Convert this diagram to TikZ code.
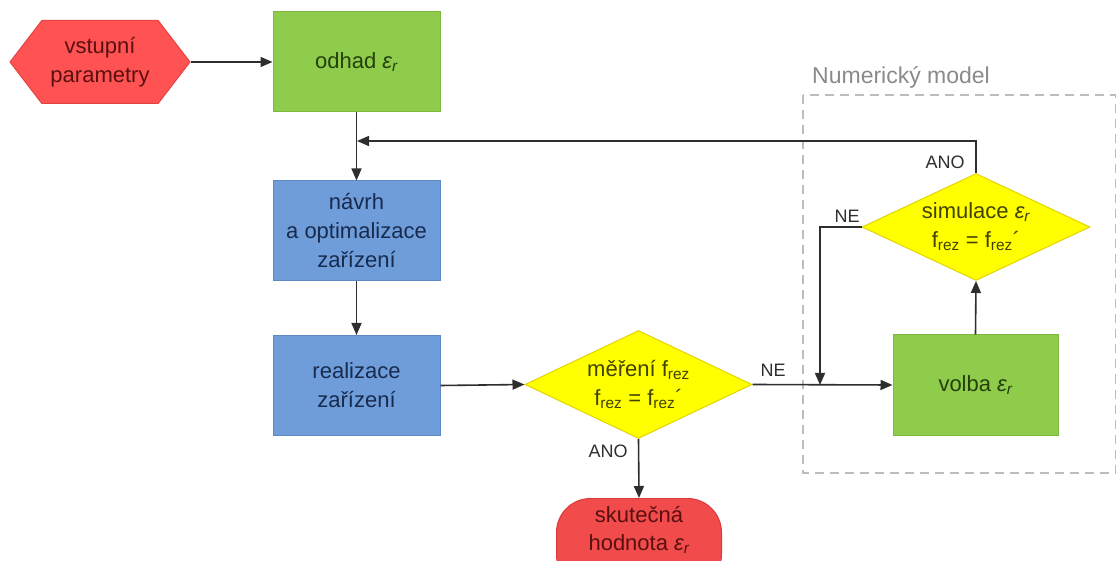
\documentclass[tikz,border=0pt]{standalone}
\usepackage{fontspec}
\setmainfont{Liberation Sans}
\usetikzlibrary{shapes.geometric,shapes.symbols,arrows.meta}
\definecolor{hexfill}{HTML}{FF5252}
\definecolor{hexdraw}{HTML}{E54444}
\definecolor{hextext}{HTML}{5A1010}
\definecolor{grfill}{HTML}{8FCC4B}
\definecolor{grdraw}{HTML}{7DB83E}
\definecolor{grtext}{HTML}{24400C}
\definecolor{blfill}{HTML}{6E9DDA}
\definecolor{bldraw}{HTML}{5C8AC6}
\definecolor{bltext}{HTML}{182B4F}
\definecolor{yefill}{HTML}{FFFF00}
\definecolor{yedraw}{HTML}{E2D400}
\definecolor{yetext}{HTML}{424200}
\definecolor{tefill}{HTML}{F24B4B}
\definecolor{tedraw}{HTML}{D83C3C}
\definecolor{linecol}{HTML}{2E2E2E}
\definecolor{dashcol}{HTML}{BDBDBD}
\definecolor{grey}{HTML}{8A8A8A}
\newcommand{\epsr}{{\itshape ε\textsubscript{r}}}
\newcommand{\frez}{f\textsubscript{rez}}
\tikzset{
  basetext/.style={font=\fontsize{22}{29}\selectfont, align=center, inner sep=0pt},
  hexbox/.style={basetext, signal, signal to=west and east, signal pointer angle=105,
    minimum width=180pt, minimum height=83pt, fill=hexfill, draw=hexdraw, line width=1pt, text=hextext},
  greenbox/.style={basetext, rectangle, minimum width=167pt, minimum height=100pt,
    fill=grfill, draw=grdraw, line width=1pt, text=grtext},
  bluebox/.style={basetext, rectangle, minimum width=167pt, minimum height=100pt,
    fill=blfill, draw=bldraw, line width=1pt, text=bltext},
  decbox/.style={basetext, diamond, aspect=2, minimum width=227pt, minimum height=108pt,
    fill=yefill, draw=yedraw, line width=1pt, text=yetext},
  termbox/.style={basetext, rectangle, rounded corners=34pt, minimum width=165pt, minimum height=90pt,
    fill=tefill, draw=tedraw, line width=1pt, text=hextext},
  conn/.style={draw=linecol, line width=1.6pt, -{Triangle[length=12pt,width=10pt]}},
  lbl/.style={font=\fontsize{18}{20}\selectfont, text=linecol, inner sep=0pt},
  groupbox/.style={draw=dashcol, line width=1.6pt, dash pattern=on 9pt off 6pt},
  grouplbl/.style={font=\fontsize{23}{26}\selectfont, text=grey, inner sep=0pt, anchor=west}
}
\begin{document}
\begin{tikzpicture}[x=1pt,y=-1pt]
\useasboundingbox (0,0) rectangle (1117,561);
\clip (0,0) rectangle (1117,561);
% group frame
\draw[groupbox] (803,95) rectangle (1115.5,473);
\node[grouplbl] (grp) at (812,77) {Numerický model};
% nodes
\node[hexbox] (vstup) at (100,62) {vstupní\\parametry};
\node[greenbox] (odhad) at (356.5,62) {odhad \epsr};
\node[bluebox] (navrh) at (356.5,231) {návrh\\a optimalizace\\zařízení};
\node[bluebox] (real) at (356.5,385.5) {realizace\\zařízení};
\node[decbox] (mer) at (638.5,384.5) {měření \frez\\\frez{} = \frez´};
\node[termbox, anchor=north] (skut) at (639,498) {\raisebox{13pt}[\height][\depth]{\begin{tabular}{@{}c@{}}skutečná\\[-1pt]hodnota \epsr\end{tabular}}};
\node[greenbox, minimum width=165pt] (volba) at (975.5,385) {volba \epsr};
\node[decbox, minimum width=228pt, minimum height=107pt] (sim) at (976,227) {simulace \epsr\\\frez{} = \frez´};
% helper coordinates
\coordinate (fb) at (357,141);
\coordinate (join) at (820,385);
% connectors
\draw[conn] (vstup.east) -- (odhad.west);
\draw[conn] (odhad.south) -- (navrh.north);
\draw[conn] (navrh.south) -- (real.north);
\draw[conn] (real.east) -- (mer.west);
\draw[conn] (mer.south) -- (skut.north);
\draw[conn] (mer.east) -- (volba.west);
\draw[conn] (volba.north) -- (sim.south);
\draw[conn] (sim.north) |- (fb);
\draw[conn] (sim.west) -| (join);
% labels
\node[lbl] (lano1) at (608,451) {ANO};
\node[lbl] (lne1) at (773,370) {NE};
\node[lbl] (lano2) at (945,162) {ANO};
\node[lbl] (lne2) at (847,216) {NE};
\end{tikzpicture}
\end{document}
